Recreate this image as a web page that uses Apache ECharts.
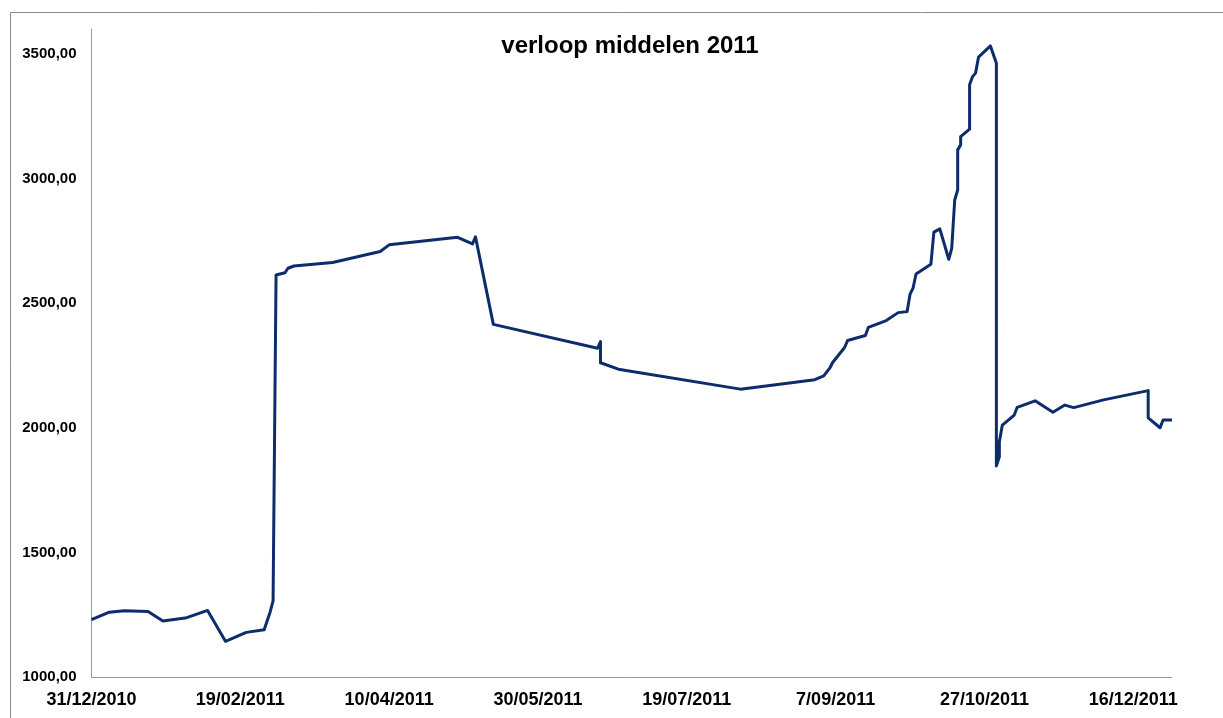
<!DOCTYPE html>
<html>
<head>
<meta charset="utf-8">
<script src="https://cdn.jsdelivr.net/npm/echarts@6/dist/echarts.min.js"></script>
<style>
html,body{margin:0;padding:0;background:#fff;}
#c{width:1223px;height:718px;}
</style>
</head>
<body>
<div id="c"></div>
<script>
const titleText = 'verloop middelen 2011';
const startDate = '2010-12-31';
const dates = [
 '2010-12-31','2011-01-06','2011-01-11','2011-01-19','2011-01-24','2011-02-01','2011-02-08','2011-02-14',
 '2011-02-21','2011-02-27','2011-02-28','2011-03-01','2011-03-02','2011-03-03','2011-03-06','2011-03-07',
 '2011-03-09','2011-03-22','2011-04-07','2011-04-10','2011-05-03','2011-05-08','2011-05-09','2011-05-15',
 '2011-06-19','2011-06-20','2011-06-20','2011-06-26','2011-08-06','2011-08-31','2011-09-03','2011-09-05',
 '2011-09-06','2011-09-10','2011-09-11','2011-09-17','2011-09-18','2011-09-24','2011-09-28','2011-10-01',
 '2011-10-02','2011-10-03','2011-10-04','2011-10-09','2011-10-10','2011-10-12','2011-10-15','2011-10-16',
 '2011-10-17','2011-10-18','2011-10-18','2011-10-19','2011-10-19','2011-10-22','2011-10-22','2011-10-23',
 '2011-10-24','2011-10-25','2011-10-29','2011-10-31','2011-10-31','2011-11-01','2011-11-01','2011-11-02',
 '2011-11-06','2011-11-07','2011-11-13','2011-11-19','2011-11-23','2011-11-26','2011-12-06','2011-12-21',
 '2011-12-21','2011-12-25','2011-12-26','2011-12-29'
];
const values = [
 1230,1260,1266,1263,1225,1238,1267,1143,
 1179,1190,1225,1260,1305,2613,2622,2640,
 2649,2663,2707,2734,2764,2738,2766,2415,
 2319,2346,2261,2235,2155,2193,2208,2239,
 2262,2322,2350,2370,2403,2430,2462,2466,
 2536,2560,2617,2656,2785,2798,2676,2720,
 2914,2954,3115,3135,3168,3198,3376,3409,
 3423,3487,3532,3463,1847,1884,1944,2011,
 2051,2082,2108,2062,2091,2081,2112,2149,
 2040,2000,2031,2031
];
const xMaxDay = 363;
const xTickStep = 50;
const yMin = 1000, yMax = 3600, yStep = 500;

function dayOffset(s){
  const p = s.split('-').map(Number);
  const q = startDate.split('-').map(Number);
  return Math.round((Date.UTC(p[0],p[1]-1,p[2]) - Date.UTC(q[0],q[1]-1,q[2]))/86400000);
}
function dayLabel(d){
  const q = startDate.split('-').map(Number);
  const dt = new Date(Date.UTC(q[0],q[1]-1,q[2]) + d*86400000);
  const mm = String(dt.getUTCMonth()+1).padStart(2,'0');
  return dt.getUTCDate() + '/' + mm + '/' + dt.getUTCFullYear();
}
const seriesData = dates.map((d,i)=>[dayOffset(d), values[i]]);

const chart = echarts.init(document.getElementById('c'), null, {renderer:'canvas'});
chart.setOption({
  animation:false,
  backgroundColor:'#ffffff',
  title:{
    text:titleText, left:625, top:29, textAlign:'center',
    textStyle:{fontFamily:'Liberation Sans', fontWeight:'bold', fontSize:24, color:'#000'}
  },
  graphic:[{
    type:'rect', left:8, top:10, silent:true,
    shape:{x:0,y:0,width:1240,height:730},
    style:{fill:'none', stroke:'#8c8c8c', lineWidth:1}
  }],
  grid:{left:91.5, right:51, top:29, bottom:41, containLabel:false},
  xAxis:{
    type:'value', min:0, max:xMaxDay, interval:xTickStep,
    axisLine:{show:true, lineStyle:{color:'#9a9a9a', width:1}},
    axisTick:{show:false},
    splitLine:{show:false},
    axisLabel:{
      showMaxLabel:false, margin:14,
      formatter:v=>dayLabel(v),
      fontFamily:'Liberation Sans', fontWeight:'bold', fontSize:18, color:'#000'
    }
  },
  yAxis:{
    type:'value', min:yMin, max:yMax, interval:yStep,
    axisLine:{show:true, lineStyle:{color:'#9a9a9a', width:1}},
    axisTick:{show:false},
    splitLine:{show:false},
    axisLabel:{
      showMaxLabel:false, margin:15,
      formatter:v=>v.toFixed(2).replace('.', ','),
      fontFamily:'Liberation Sans', fontWeight:'bold', fontSize:15, color:'#000'
    }
  },
  series:[{
    type:'line', data:seriesData, showSymbol:false, symbol:'none',
    lineStyle:{color:'#0c2c6c', width:3, join:'round'},
    itemStyle:{color:'#0c2c6c'}
  }]
});
</script>
</body>
</html>
